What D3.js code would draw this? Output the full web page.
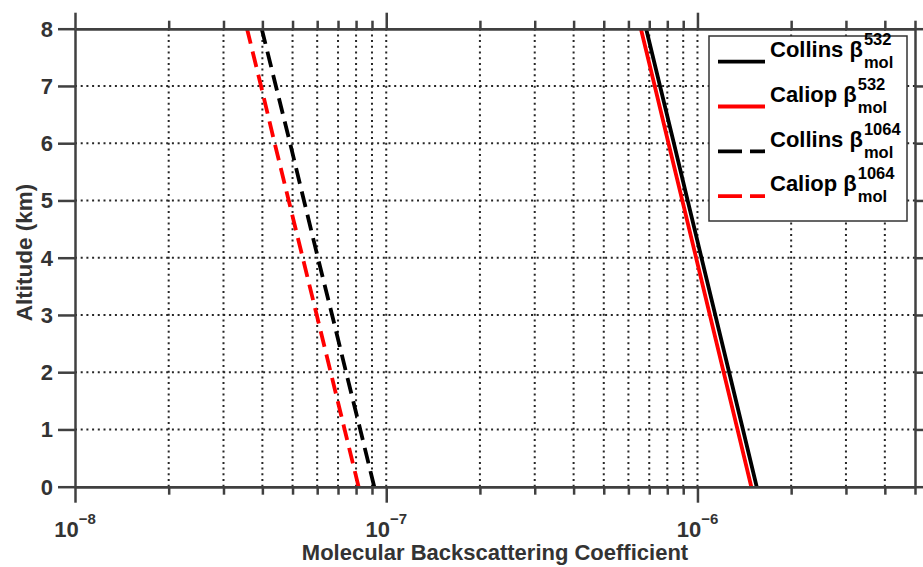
<!DOCTYPE html>
<html>
<head>
<meta charset="utf-8">
<script src="https://cdn.jsdelivr.net/npm/d3@7"></script>
<style>
  body { margin: 0; background: #fff; }
  text { font-family: "Liberation Sans", Arial, sans-serif; font-weight: bold; fill: #333; }
</style>
</head>
<body>
<div id="chart"></div>
<script>
// altitude levels (km)
const altitude = [0, 1, 2, 3, 4, 5, 6, 7, 8];

// molecular backscattering values
const collins532 = [1.550e-6, 1.400e-6, 1.264e-6, 1.141e-6, 1.030e-6, 9.30e-7, 8.40e-7, 7.58e-7, 6.84e-7];
const caliop532 = [1.489e-6, 1.345e-6, 1.214e-6, 1.096e-6, 9.90e-7, 8.94e-7, 8.07e-7, 7.29e-7, 6.58e-7];
const collins1064 = [9.15e-8, 8.25e-8, 7.43e-8, 6.70e-8, 6.03e-8, 5.44e-8, 4.91e-8, 4.42e-8, 3.98e-8];
const caliop1064 = [8.15e-8, 7.35e-8, 6.63e-8, 5.98e-8, 5.39e-8, 4.86e-8, 4.38e-8, 3.96e-8, 3.57e-8];

const seriesNames = ["Collins", "Caliop", "Collins", "Caliop"];
const seriesSup = ["532", "532", "1064", "1064"];

// ticks
const majorTicks = [1e-8, 1e-7, 1e-6];
const majorLabels = ["\u22128", "\u22127", "\u22126"];
const minorTicks = [2e-8, 3e-8, 4e-8, 5e-8, 6e-8, 7e-8, 8e-8, 9e-8,
                    2e-7, 3e-7, 4e-7, 5e-7, 6e-7, 7e-7, 8e-7, 9e-7,
                    2e-6, 3e-6, 4e-6, 5e-6];
const yTicks = [0, 1, 2, 3, 4, 5, 6, 7, 8];

const W = 923, H = 567;
const margin = { top: 28.7, right: 8, bottom: 80.3, left: 75 };
const width = W - margin.left - margin.right;
const height = H - margin.top - margin.bottom;

const x = d3.scaleLog().domain([1e-8, 5e-6]).range([0, width]);
const y = d3.scaleLinear().domain([0, 8]).range([height, 0]);

const axisColor = "#404040";

const svg = d3.select("#chart")
  .append("svg")
  .attr("width", W)
  .attr("height", H)
  .append("g")
  .attr("transform", `translate(${margin.left},${margin.top})`);

// dotted grid
const gridStyle = g => g.attr("stroke", "#262626").attr("stroke-width", 2).attr("stroke-dasharray", "2,3.7");
svg.append("g").call(gridStyle)
  .selectAll("line")
  .data(majorTicks.concat(minorTicks).filter(d => d > 1e-8 && d < 5e-6))
  .join("line")
  .attr("x1", d => x(d)).attr("x2", d => x(d))
  .attr("y1", 0).attr("y2", height);
svg.append("g").call(gridStyle)
  .selectAll("line")
  .data(yTicks.filter(d => d > 0 && d < 8))
  .join("line")
  .attr("x1", 0).attr("x2", width)
  .attr("y1", d => y(d)).attr("y2", d => y(d));

// data lines
const line = d3.line()
  .x(d => x(d[0]))
  .y(d => y(d[1]));

const series = [
  { values: collins532, color: "#000", dash: null },
  { values: caliop532, color: "#ff0000", dash: null },
  { values: collins1064, color: "#000", dash: "16,8" },
  { values: caliop1064, color: "#ff0000", dash: "16,8" }
];

series.forEach(s => {
  svg.append("path")
    .datum(s.values.map((v, i) => [v, altitude[i]]))
    .attr("fill", "none")
    .attr("stroke", s.color)
    .attr("stroke-width", 3.8)
    .attr("stroke-dasharray", s.dash)
    .attr("d", line);
});

// axes
function styleAxis(g) {
  g.select(".domain").attr("stroke", axisColor).attr("stroke-width", 2.5);
  g.selectAll(".tick line").attr("stroke", axisColor).attr("stroke-width", 2.5);
  g.selectAll(".tick text").remove();
}

svg.append("g")
  .attr("transform", `translate(0,${height})`)
  .call(d3.axisBottom(x).tickValues(minorTicks).tickSize(8).tickSizeOuter(0).tickFormat(""))
  .call(styleAxis);
svg.append("g")
  .attr("transform", `translate(0,${height})`)
  .call(d3.axisBottom(x).tickValues(majorTicks).tickSize(16).tickSizeOuter(0).tickFormat(""))
  .call(styleAxis);
svg.append("g")
  .call(d3.axisTop(x).tickValues(minorTicks).tickSize(8).tickSizeOuter(0).tickFormat(""))
  .call(styleAxis);
svg.append("g")
  .call(d3.axisTop(x).tickValues(majorTicks).tickSize(16).tickSizeOuter(0).tickFormat(""))
  .call(styleAxis);
svg.append("g")
  .call(d3.axisLeft(y).tickValues(yTicks).tickSize(17).tickSizeOuter(0).tickFormat(""))
  .call(styleAxis);
svg.append("g")
  .attr("transform", `translate(${width},0)`)
  .call(d3.axisRight(y).tickValues(yTicks).tickSize(17).tickSizeOuter(0).tickFormat(""))
  .call(styleAxis);

// y tick labels
svg.append("g")
  .selectAll("text")
  .data(yTicks)
  .join("text")
  .attr("x", -22)
  .attr("y", d => y(d))
  .attr("dy", "0.36em")
  .attr("text-anchor", "end")
  .style("font-size", "22px")
  .text(d => d);

// x tick labels 10^n
majorTicks.forEach((t, i) => {
  const g = svg.append("g");
  const base = g.append("text")
    .attr("y", 537 - margin.top)
    .style("font-size", "22px")
    .text("10");
  const sup = g.append("text")
    .attr("y", 524 - margin.top)
    .style("font-size", "15px")
    .text(majorLabels[i]);
  const bw = base.node().getComputedTextLength();
  const sw = sup.node().getComputedTextLength();
  const start = x(t) - (bw + sw) / 2;
  base.attr("x", start);
  sup.attr("x", start + bw);
});

// axis titles
svg.append("text")
  .attr("x", width / 2)
  .attr("y", 560 - margin.top)
  .attr("text-anchor", "middle")
  .style("font-size", "22px")
  .text("Molecular Backscattering Coefficient");

svg.append("text")
  .attr("transform", `translate(${32 - margin.left},${252.5 - margin.top}) rotate(-90)`)
  .attr("text-anchor", "middle")
  .style("font-size", "22.5px")
  .text("Altitude (km)");

// legend
const lg = svg.append("g").attr("transform", `translate(${709 - margin.left},${36 - margin.top})`);
lg.append("rect")
  .attr("width", 198).attr("height", 185)
  .attr("fill", "#fff")
  .attr("stroke", "#333")
  .attr("stroke-width", 1.5);

series.forEach((s, i) => {
  const cy = 25.7 + i * 44.8;
  lg.append("line")
    .attr("x1", 9).attr("x2", 56)
    .attr("y1", cy).attr("y2", cy)
    .attr("stroke", s.color)
    .attr("stroke-width", 3.8)
    .attr("stroke-dasharray", s.dash ? "24,8" : null);
  const label = lg.append("text")
    .attr("x", 61)
    .attr("y", cy - 4.7)
    .style("font-size", "22px")
    .style("fill", "#000")
    .text(seriesNames[i] + " \u03b2");
  const lw = label.node().getComputedTextLength();
  lg.append("text")
    .attr("x", 61 + lw + 1)
    .attr("y", cy - 16.7)
    .style("font-size", "16.5px")
    .style("fill", "#000")
    .text(seriesSup[i]);
  lg.append("text")
    .attr("x", 61 + lw + 1)
    .attr("y", cy + 6.3)
    .style("font-size", "16.5px")
    .style("fill", "#000")
    .text("mol");
});
</script>
</body>
</html>
